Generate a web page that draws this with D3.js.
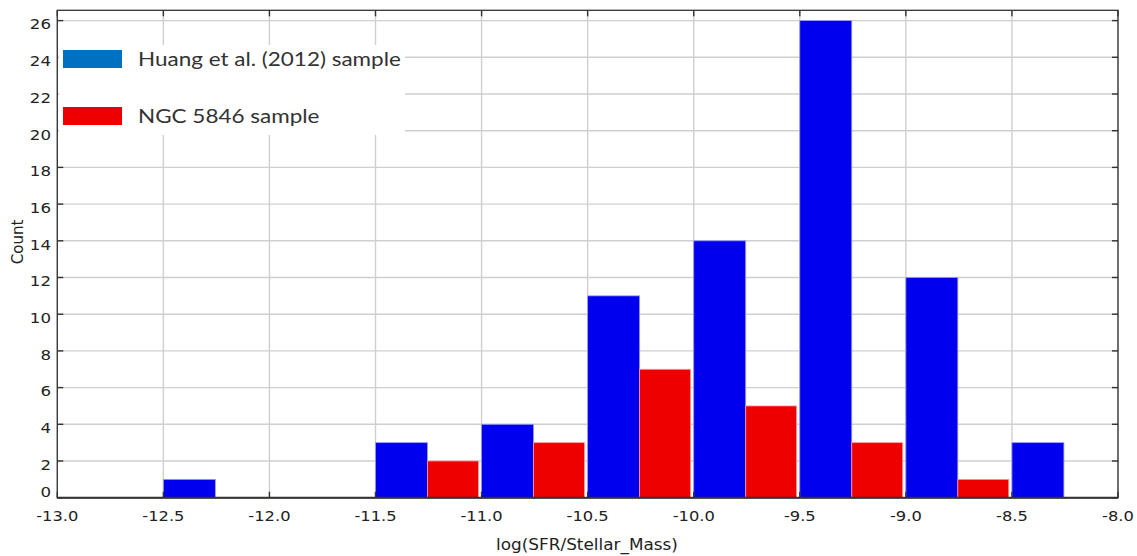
<!DOCTYPE html>
<html>
<head>
<meta charset="utf-8">
<script src="https://cdn.jsdelivr.net/npm/d3@7"></script>
<style>
  html, body { margin: 0; padding: 0; background: #fff; }
  svg { display: block; }
</style>
</head>
<body>
<svg id="chart" width="1137" height="556"></svg>
<script>
// ---- data ----
const binStarts = [-12.5, -12.0, -11.5, -11.0, -10.5, -10.0, -9.5, -9.0, -8.5];
const huangCounts = [1, 0, 3, 4, 11, 14, 26, 12, 3];
const ngcCounts   = [0, 0, 2, 3, 7, 5, 3, 1, 0];
const seriesNames = ["Huang et al. (2012) sample", "NGC 5846 sample"];
const xTicks = [-13.0, -12.5, -12.0, -11.5, -11.0, -10.5, -10.0, -9.5, -9.0, -8.5, -8.0];
const yTicks = [0, 2, 4, 6, 8, 10, 12, 14, 16, 18, 20, 22, 24, 26];
const xTitle = "log(SFR/Stellar_Mass)";
const yTitle = "Count";

// ---- layout ----
const svg = d3.select("#chart");
const L = 57.3, R = 1118, T = 10.3, B = 497.7;
const x = d3.scaleLinear().domain([-13, -8]).range([L, R]);
const y = d3.scaleLinear().domain([0, (B - T) / 18.35]).range([B, T]);

const axisFont = "'DejaVu Sans', Verdana, sans-serif";
const SX = 1.125; // horizontal stretch of the original rendering

// gridlines
svg.append("g").selectAll("line").data(xTicks).join("line")
  .attr("x1", d => x(d)).attr("x2", d => x(d)).attr("y1", T).attr("y2", B)
  .attr("stroke", "#cfcfcf").attr("stroke-width", 1.4);
svg.append("g").selectAll("line").data(yTicks).join("line")
  .attr("x1", L).attr("x2", R).attr("y1", d => y(d)).attr("y2", d => y(d))
  .attr("stroke", "#cfcfcf").attr("stroke-width", 1.4);

// bars
const barW = 0.245, barW2 = 0.24;
const bars = svg.append("g");
bars.selectAll("rect.h").data(binStarts.map((b, i) => ({b, v: huangCounts[i]})).filter(d => d.v > 0))
  .join("rect").attr("class", "h")
  .attr("x", d => x(d.b)).attr("width", d => x(d.b + barW) - x(d.b))
  .attr("y", d => y(d.v)).attr("height", d => y(0) - y(d.v))
  .attr("fill", "#0000ee").attr("stroke", "#9a9aff").attr("stroke-width", 0.8);
bars.selectAll("rect.n").data(binStarts.map((b, i) => ({b, v: ngcCounts[i]})).filter(d => d.v > 0))
  .join("rect").attr("class", "n")
  .attr("x", d => x(d.b + barW)).attr("width", d => x(d.b + barW + barW2) - x(d.b + barW))
  .attr("y", d => y(d.v)).attr("height", d => y(0) - y(d.v))
  .attr("fill", "#ee0000").attr("stroke", "#ff9a9a").attr("stroke-width", 0.8);

// inward ticks (bottom, top, left, right)
const tk = svg.append("g").attr("stroke", "#333").attr("stroke-width", 1.4);
tk.selectAll("line.bt").data(xTicks).join("line").attr("class", "bt")
  .attr("x1", d => x(d)).attr("x2", d => x(d)).attr("y1", B).attr("y2", B - 6);
tk.selectAll("line.tt").data(xTicks).join("line").attr("class", "tt")
  .attr("x1", d => x(d)).attr("x2", d => x(d)).attr("y1", T).attr("y2", T + 6);
tk.selectAll("line.lt").data(yTicks).join("line").attr("class", "lt")
  .attr("x1", L).attr("x2", L + 6).attr("y1", d => y(d)).attr("y2", d => y(d));
tk.selectAll("line.rt").data(yTicks).join("line").attr("class", "rt")
  .attr("x1", R).attr("x2", R - 6).attr("y1", d => y(d)).attr("y2", d => y(d));

// frame
svg.append("rect").attr("x", L).attr("y", T).attr("width", R - L).attr("height", B - T)
  .attr("fill", "none").attr("stroke", "#333").attr("stroke-width", 1.3);
svg.append("line").attr("x1", L).attr("x2", R).attr("y1", B).attr("y2", B)
  .attr("stroke", "#333").attr("stroke-width", 2);

// tick labels
svg.append("g").selectAll("text").data(xTicks).join("text")
  .attr("transform", d => `translate(${x(d)},521) scale(${SX},1)`)
  .attr("text-anchor", "middle")
  .attr("font-family", axisFont).attr("font-size", 14.5).attr("fill", "#222")
  .text(d => d3.format(".1f")(d).replace("−", "-"));
svg.append("g").selectAll("text").data(yTicks).join("text")
  .attr("transform", d => `translate(51,${Math.min(y(d) + 3.5, B - 6)}) scale(${SX},1)`)
  .attr("dy", "0.36em")
  .attr("text-anchor", "end")
  .attr("font-family", axisFont).attr("font-size", 14.8).attr("fill", "#222")
  .text(d => d);

// axis titles
svg.append("text").attr("transform", `translate(587,550) scale(${SX},1)`).attr("text-anchor", "middle")
  .attr("font-family", axisFont).attr("font-size", 15).attr("fill", "#222").text(xTitle);
svg.append("text").attr("transform", "translate(23,242) rotate(-90)").attr("text-anchor", "middle")
  .attr("font-family", axisFont).attr("font-size", 15).attr("fill", "#222").text(yTitle);

// legend
const lg = svg.append("g");
lg.append("rect").attr("x", L + 1).attr("y", 45).attr("width", 405 - L - 1).attr("height", 90).attr("fill", "#fff");
const legColors = ["#0070c0", "#ee0000"];
const legY = [50, 107];
seriesNames.forEach((name, i) => {
  lg.append("rect").attr("x", 63).attr("y", legY[i]).attr("width", 59).attr("height", 18)
    .attr("fill", legColors[i]);
  lg.append("text").attr("transform", `translate(138,${legY[i] + 16}) scale(${SX},1)`)
    .attr("font-family", "Lato, 'Open Sans', sans-serif").attr("font-size", 20).attr("fill", "#333")
    .text(name);
});
</script>
</body>
</html>
